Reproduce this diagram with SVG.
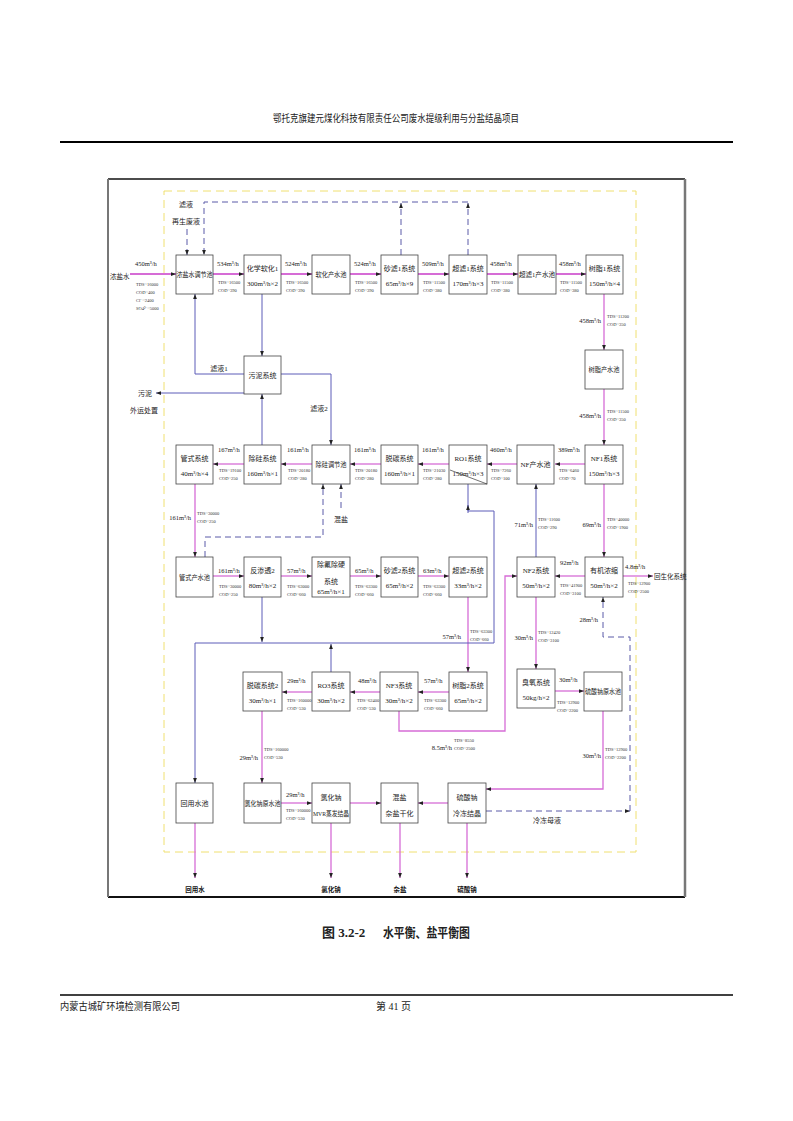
<svg xmlns="http://www.w3.org/2000/svg" width="793" height="1121" viewBox="0 0 793 1121">
<defs>
<style>
.bx{fill:#fff;stroke:#444;stroke-width:0.8}
.t{font-family:"Liberation Serif","Noto Sans CJK SC",serif;font-size:7px;fill:#222;text-anchor:middle}
.f{font-family:"Liberation Serif","Noto Sans CJK SC",serif;font-size:6.5px;fill:#222}
.fe{text-anchor:end}
.s{font-family:"Liberation Serif",serif;font-size:4.5px;fill:#333}
.m{fill:none;stroke:#d66cd6;stroke-width:1.3}
.mw{stroke-width:2}
.b{fill:none;stroke:#5c5cb8;stroke-width:1}
.d{fill:none;stroke:#5a5aa8;stroke-width:1;stroke-dasharray:6 4}
.o{font-family:"Liberation Serif","Noto Sans CJK SC",serif;font-size:6.5px;font-weight:bold;fill:#111;text-anchor:middle}
.h{font-family:"Liberation Serif","Noto Sans CJK SC",serif;fill:#222}
</style>
<marker id="ah" viewBox="0 0 8 6" refX="8" refY="3" markerWidth="5" markerHeight="4" markerUnits="userSpaceOnUse" orient="auto"><path d="M0,0L8,3L0,6z" fill="#222"/></marker>
</defs>
<rect x="0" y="0" width="793" height="1121" fill="#fff"/>

<g id="page">
<text class="h" x="273" y="122" font-size="10" textLength="246" lengthAdjust="spacingAndGlyphs">鄂托克旗建元煤化科技有限责任公司废水提级利用与分盐结晶项目</text>
<line x1="60" y1="142" x2="733" y2="142" stroke="#000" stroke-width="2"/>
<line x1="108" y1="179" x2="685" y2="179" stroke="#111" stroke-width="1.5"/>
<line x1="108" y1="897" x2="685" y2="897" stroke="#111" stroke-width="1.8"/>
<line x1="108" y1="179" x2="108" y2="897" stroke="#777" stroke-width="2"/>
<line x1="685" y1="179" x2="685" y2="897" stroke="#777" stroke-width="2.5"/>
<rect x="164" y="191" width="472" height="661" fill="none" stroke="#f0e070" stroke-width="1" stroke-dasharray="8 5"/>
<text class="h" x="322" y="937" font-size="13" font-weight="bold">图 3.2-2</text>
<text class="h" x="383" y="937" font-size="13" font-weight="bold" textLength="87" lengthAdjust="spacingAndGlyphs">水平衡、盐平衡图</text>
<line x1="60" y1="995" x2="733" y2="995" stroke="#000" stroke-width="1.5"/>
<text class="h" x="60" y="1010" font-size="10" textLength="120" lengthAdjust="spacingAndGlyphs">内蒙古城矿环境检测有限公司</text>
<text class="h" x="376" y="1010" font-size="10">第 41 页</text>
</g>

<g id="connectors">
<!-- row 1 -->
<path class="m mw" d="M130,274H176" marker-end="url(#ah)"/>
<path class="m mw" d="M213,274H244" marker-end="url(#ah)"/>
<path class="m mw" d="M281,274H312" marker-end="url(#ah)"/>
<path class="m mw" d="M350,274H381" marker-end="url(#ah)"/>
<path class="m mw" d="M418,274H449" marker-end="url(#ah)"/>
<path class="m mw" d="M487,274H518" marker-end="url(#ah)"/>
<path class="m mw" d="M556,274H586" marker-end="url(#ah)"/>
<path class="m" d="M604,294V350" marker-end="url(#ah)"/>
<path class="m" d="M604,389V445" marker-end="url(#ah)"/>
<!-- row 2 -->
<path class="m" d="M585,464H555" marker-end="url(#ah)"/>
<path class="m" d="M517,464H487" marker-end="url(#ah)"/>
<path class="m" d="M449,464H418" marker-end="url(#ah)"/>
<path class="m" d="M381,464H350" marker-end="url(#ah)"/>
<path class="m" d="M312,464H281" marker-end="url(#ah)"/>
<path class="m" d="M244,464H213" marker-end="url(#ah)"/>
<path class="m" d="M195,484V557" marker-end="url(#ah)"/>
<path class="m" d="M604,484V557" marker-end="url(#ah)"/>
<!-- row 3 -->
<path class="m" d="M213,576H244" marker-end="url(#ah)"/>
<path class="m" d="M281,576H312" marker-end="url(#ah)"/>
<path class="m" d="M350,576H381" marker-end="url(#ah)"/>
<path class="m" d="M418,576H449" marker-end="url(#ah)"/>
<path class="m" d="M585,576H555" marker-end="url(#ah)"/>
<path class="m" d="M623,576H653" marker-end="url(#ah)"/>
<path class="m" d="M536,597V669" marker-end="url(#ah)"/>
<path class="m" d="M468,597V672" marker-end="url(#ah)"/>
<path class="m" d="M399,711V731H505V576H517" marker-end="url(#ah)"/>
<!-- row 4 -->
<path class="m" d="M449,692H418" marker-end="url(#ah)"/>
<path class="m" d="M380,692H350" marker-end="url(#ah)"/>
<path class="m" d="M312,692H282" marker-end="url(#ah)"/>
<path class="m" d="M262,711V783" marker-end="url(#ah)"/>
<path class="m" d="M555,691H584" marker-end="url(#ah)"/>
<path class="m" d="M603,711V789H486" marker-end="url(#ah)"/>
<!-- row 5 -->
<path class="m" d="M281,803H312" marker-end="url(#ah)"/>
<path class="m" d="M350,803H381" marker-end="url(#ah)"/>
<path class="m" d="M448,803H418" marker-end="url(#ah)"/>
<path class="m" d="M195,823V878" marker-end="url(#ah)"/>
<path class="m" d="M331,823V878" marker-end="url(#ah)"/>
<path class="m" d="M400,823V878" marker-end="url(#ah)"/>
<path class="m" d="M467,823V878" marker-end="url(#ah)"/>
<!-- blue -->
<path class="b" d="M244,374H195V294" marker-end="url(#ah)"/>
<path class="b" d="M262,294V356" marker-end="url(#ah)"/>
<path class="b" d="M281,374H331V445" marker-end="url(#ah)"/>
<path class="b" d="M244,393H156" marker-end="url(#ah)"/>
<path class="b" d="M262,445V394" marker-end="url(#ah)"/>
<path class="b" d="M536,557V484" marker-end="url(#ah)"/>
<path class="b" d="M468,484V511H494V643H195V783" marker-end="url(#ah)"/>
<path class="b" d="M468,513V505" marker-end="url(#ah)"/>
<path class="b" d="M262,597V642" marker-end="url(#ah)"/>
<path class="b" d="M331,672V644" marker-end="url(#ah)"/>
<!-- dashed -->
<path class="d" d="M468,255V203" marker-end="url(#ah)"/>
<path class="d" d="M401,255V203" marker-end="url(#ah)"/>
<path class="d" d="M468,202H204V255" marker-end="url(#ah)"/>
<path class="d" d="M187,229V255" marker-end="url(#ah)"/>
<path class="d" d="M205,557V537H323V484" marker-end="url(#ah)"/>
<path class="d" d="M341,508V484" marker-end="url(#ah)"/>
<path class="d" d="M486,811H630" marker-end="url(#ah)"/>
<path class="d" d="M630,811V637H603V597" marker-end="url(#ah)"/>
</g>

<g id="nodes">
<g id="n-nongyan"><rect class="bx" x="176" y="255" width="37" height="39"/><text class="t" x="194.5" y="277" textLength="36" lengthAdjust="spacingAndGlyphs">浓盐水调节池</text></g>
<g id="n-ruanhua1"><rect class="bx" x="244" y="255" width="37" height="39"/><text class="t" x="262.5" y="271">化学软化1</text><text class="t" x="262.5" y="286">300m³/h×2</text></g>
<g id="n-ruanhuachan"><rect class="bx" x="312" y="255" width="38" height="39"/><text class="t" x="331" y="277" textLength="31" lengthAdjust="spacingAndGlyphs">软化产水池</text></g>
<g id="n-shalv1"><rect class="bx" x="381" y="255" width="37" height="39"/><text class="t" x="399.5" y="271">砂滤1系统</text><text class="t" x="399.5" y="286">65m³/h×9</text></g>
<g id="n-chaolv1"><rect class="bx" x="449" y="255" width="38" height="39"/><text class="t" x="468" y="271">超滤1系统</text><text class="t" x="468" y="286">170m³/h×3</text></g>
<g id="n-chaolv1chan"><rect class="bx" x="518" y="255" width="38" height="39"/><text class="t" x="537" y="277" textLength="36" lengthAdjust="spacingAndGlyphs">超滤1产水池</text></g>
<g id="n-shuzhi1"><rect class="bx" x="586" y="255" width="37" height="39"/><text class="t" x="604.5" y="271">树脂1系统</text><text class="t" x="604.5" y="286">150m³/h×4</text></g>
<g id="n-shuzhichan"><rect class="bx" x="585" y="350" width="38" height="39"/><text class="t" x="604" y="372" textLength="31" lengthAdjust="spacingAndGlyphs">树脂产水池</text></g>
<g id="n-wuni"><rect class="bx" x="244" y="356" width="37" height="38"/><text class="t" x="262.5" y="378">污泥系统</text></g>
<g id="n-nf1"><rect class="bx" x="585" y="445" width="38" height="39"/><text class="t" x="604" y="461">NF1系统</text><text class="t" x="604" y="476">150m³/h×3</text></g>
<g id="n-nfchan"><rect class="bx" x="517" y="445" width="37" height="39"/><text class="t" x="535.5" y="467">NF产水池</text></g>
<g id="n-ro1"><rect class="bx" x="449" y="445" width="38" height="39"/><text class="t" x="468" y="461">RO1系统</text><text class="t" x="468" y="476">150m³/h×3</text><line x1="450" y1="470" x2="487" y2="484" stroke="#333" stroke-width="0.7"/></g>
<g id="n-tuotan"><rect class="bx" x="381" y="445" width="37" height="39"/><text class="t" x="399.5" y="461">脱碳系统</text><text class="t" x="399.5" y="476">160m³/h×1</text></g>
<g id="n-chuguitj"><rect class="bx" x="312" y="445" width="38" height="39"/><text class="t" x="331" y="467" textLength="31" lengthAdjust="spacingAndGlyphs">除硅调节池</text></g>
<g id="n-chugui"><rect class="bx" x="244" y="445" width="37" height="39"/><text class="t" x="262.5" y="461">除硅系统</text><text class="t" x="262.5" y="476">160m³/h×1</text></g>
<g id="n-guanshi"><rect class="bx" x="176" y="445" width="37" height="39"/><text class="t" x="194.5" y="461">管式系统</text><text class="t" x="194.5" y="476">40m³/h×4</text></g>
<g id="n-guanshichan"><rect class="bx" x="176" y="557" width="37" height="40"/><text class="t" x="194.5" y="580" textLength="31" lengthAdjust="spacingAndGlyphs">管式产水池</text></g>
<g id="n-fanshentou2"><rect class="bx" x="244" y="557" width="37" height="40"/><text class="t" x="262.5" y="573">反渗透2</text><text class="t" x="262.5" y="588">80m³/h×2</text></g>
<g id="n-chufu"><rect class="bx" x="312" y="557" width="38" height="40"/><text class="t" x="331" y="567">除氟除硬</text><text class="t" x="331" y="584">系统</text><text class="t" x="331" y="594">65m³/h×1</text></g>
<g id="n-shalv2"><rect class="bx" x="381" y="557" width="37" height="40"/><text class="t" x="399.5" y="573">砂滤2系统</text><text class="t" x="399.5" y="588">65m³/h×2</text></g>
<g id="n-chaolv2"><rect class="bx" x="449" y="557" width="38" height="40"/><text class="t" x="468" y="573">超滤2系统</text><text class="t" x="468" y="588">33m³/h×2</text></g>
<g id="n-nf2"><rect class="bx" x="517" y="557" width="38" height="40"/><text class="t" x="536" y="573">NF2系统</text><text class="t" x="536" y="588">50m³/h×2</text></g>
<g id="n-youji"><rect class="bx" x="585" y="557" width="38" height="40"/><text class="t" x="604" y="573">有机浓缩</text><text class="t" x="604" y="588">50m³/h×2</text></g>
<g id="n-shuzhi2"><rect class="bx" x="449" y="672" width="38" height="39"/><text class="t" x="468" y="688">树脂2系统</text><text class="t" x="468" y="703">65m³/h×2</text></g>
<g id="n-nf3"><rect class="bx" x="380" y="672" width="38" height="39"/><text class="t" x="399" y="688">NF3系统</text><text class="t" x="399" y="703">30m³/h×2</text></g>
<g id="n-ro3"><rect class="bx" x="312" y="672" width="38" height="39"/><text class="t" x="331" y="688">RO3系统</text><text class="t" x="331" y="703">30m³/h×2</text></g>
<g id="n-tuotan2"><rect class="bx" x="243" y="672" width="39" height="39"/><text class="t" x="262.5" y="688">脱碳系统2</text><text class="t" x="262.5" y="703">30m³/h×1</text></g>
<g id="n-chouyang"><rect class="bx" x="517" y="669" width="38" height="39"/><text class="t" x="536" y="685">臭氧系统</text><text class="t" x="536" y="700">50kg/h×2</text></g>
<g id="n-liusuanyuan"><rect class="bx" x="584" y="672" width="38" height="39"/><text class="t" x="603" y="694" textLength="36" lengthAdjust="spacingAndGlyphs">硫酸钠原水池</text></g>
<g id="n-huiyong"><rect class="bx" x="176" y="783" width="37" height="40"/><text class="t" x="194.5" y="806">回用水池</text></g>
<g id="n-lvhuanayuan"><rect class="bx" x="244" y="783" width="37" height="40"/><text class="t" x="262.5" y="806" textLength="36" lengthAdjust="spacingAndGlyphs">氯化钠原水池</text></g>
<g id="n-mvr"><rect class="bx" x="312" y="783" width="38" height="40"/><text class="t" x="331" y="800">氯化钠</text><text class="t" x="331" y="816" textLength="36" lengthAdjust="spacingAndGlyphs">MVR蒸发结晶</text></g>
<g id="n-hunyan"><rect class="bx" x="381" y="783" width="37" height="40"/><text class="t" x="399.5" y="800">混盐</text><text class="t" x="399.5" y="816">杂盐干化</text></g>
<g id="n-liusuanna"><rect class="bx" x="448" y="783" width="38" height="40"/><text class="t" x="467" y="800">硫酸钠</text><text class="t" x="467" y="816">冷冻结晶</text></g>
</g>

<g id="labels">
<!-- free texts -->
<text class="f" x="110" y="279" font-size="7">浓盐水</text>
<text class="t" x="186" y="207">滤液</text>
<text class="t" x="186" y="224">再生废液</text>
<text class="t" x="219" y="371">滤液1</text>
<text class="t" x="319" y="411">滤液2</text>
<text class="t" x="145" y="396">污泥</text>
<text class="t" x="144" y="413">外运处置</text>
<text class="t" x="341" y="522">混盐</text>
<text class="f" x="654" y="579" font-size="7">回生化系统</text>
<text class="t" x="547" y="823">冷冻母液</text>
<text class="o" x="195" y="892">回用水</text>
<text class="o" x="331" y="892">氯化钠</text>
<text class="o" x="400" y="892">杂盐</text>
<text class="o" x="467" y="892">硫酸钠</text>
<!-- row 1 flows -->
<text class="f" x="135" y="266">450m³/h</text>
<text class="s" x="136" y="286">TDS~16000</text><text class="s" x="136" y="294">COD~400</text><text class="s" x="136" y="302">Cl⁻~2400</text><text class="s" x="136" y="310">SO4²⁻~5000</text>
<text class="f" x="217" y="266">534m³/h</text>
<text class="s" x="218" y="284">TDS~16500</text><text class="s" x="218" y="291.5">COD~390</text>
<text class="f" x="285" y="266">524m³/h</text>
<text class="s" x="286" y="284">TDS~16500</text><text class="s" x="286" y="291.5">COD~390</text>
<text class="f" x="354" y="266">524m³/h</text>
<text class="s" x="355" y="284">TDS~16500</text><text class="s" x="355" y="291.5">COD~390</text>
<text class="f" x="422" y="266">509m³/h</text>
<text class="s" x="423" y="284">TDS~11500</text><text class="s" x="423" y="291.5">COD~380</text>
<text class="f" x="490" y="266">458m³/h</text>
<text class="s" x="491" y="284">TDS~11500</text><text class="s" x="491" y="291.5">COD~380</text>
<text class="f" x="559" y="266">458m³/h</text>
<text class="s" x="560" y="284">TDS~11500</text><text class="s" x="560" y="291.5">COD~380</text>
<text class="f fe" x="601" y="323">458m³/h</text>
<text class="s" x="607" y="318">TDS~11200</text><text class="s" x="607" y="325.5">COD~350</text>
<text class="f fe" x="601" y="418">458m³/h</text>
<text class="s" x="607" y="413">TDS~11500</text><text class="s" x="607" y="420.5">COD~350</text>
<!-- row 2 flows -->
<text class="f" x="558" y="452">389m³/h</text>
<text class="s" x="559" y="472">TDS~6460</text><text class="s" x="559" y="479.5">COD~70</text>
<text class="f" x="490" y="452">460m³/h</text>
<text class="s" x="491" y="472">TDS~7260</text><text class="s" x="491" y="479.5">COD~100</text>
<text class="f" x="422" y="452">161m³/h</text>
<text class="s" x="423" y="472">TDS~21030</text><text class="s" x="423" y="479.5">COD~280</text>
<text class="f" x="354" y="452">161m³/h</text>
<text class="s" x="355" y="472">TDS~20180</text><text class="s" x="355" y="479.5">COD~280</text>
<text class="f" x="287" y="452">161m³/h</text>
<text class="s" x="288" y="472">TDS~20180</text><text class="s" x="288" y="479.5">COD~280</text>
<text class="f" x="218" y="452">167m³/h</text>
<text class="s" x="219" y="472">TDS~19100</text><text class="s" x="219" y="479.5">COD~250</text>
<text class="f fe" x="191" y="520">161m³/h</text>
<text class="s" x="197" y="515">TDS~30000</text><text class="s" x="197" y="522.5">COD~250</text>
<text class="f fe" x="601" y="527">69m³/h</text>
<text class="s" x="607" y="521">TDS~40000</text><text class="s" x="607" y="528.5">COD~1900</text>
<text class="f fe" x="533" y="527">71m³/h</text>
<text class="s" x="538" y="521">TDS~11600</text><text class="s" x="538" y="528.5">COD~290</text>
<!-- row 3 flows -->
<text class="f" x="218" y="573">161m³/h</text>
<text class="s" x="219" y="588">TDS~30000</text><text class="s" x="219" y="595.5">COD~250</text>
<text class="f" x="287" y="573">57m³/h</text>
<text class="s" x="287" y="588">TDS~63000</text><text class="s" x="287" y="595.5">COD~660</text>
<text class="f" x="355" y="573">65m³/h</text>
<text class="s" x="355" y="588">TDS~63300</text><text class="s" x="355" y="595.5">COD~660</text>
<text class="f" x="423" y="573">63m³/h</text>
<text class="s" x="423" y="588">TDS~63300</text><text class="s" x="423" y="595.5">COD~660</text>
<text class="f" x="560" y="565">92m³/h</text>
<text class="s" x="560" y="587">TDS~41900</text><text class="s" x="560" y="594.5">COD~3100</text>
<text class="f" x="625" y="569">4.8m³/h</text>
<text class="s" x="628" y="585">TDS~12900</text><text class="s" x="628" y="592.5">COD~2500</text>
<text class="f fe" x="598" y="622">28m³/h</text>
<text class="f fe" x="533" y="640">30m³/h</text>
<text class="s" x="538" y="634">TDS~12420</text><text class="s" x="538" y="641.5">COD~3100</text>
<text class="f fe" x="461" y="639">57m³/h</text>
<text class="s" x="470" y="633">TDS~63300</text><text class="s" x="470" y="640.5">COD~660</text>
<!-- row 4 flows -->
<text class="f" x="424" y="683">57m³/h</text>
<text class="s" x="424" y="702">TDS~63300</text><text class="s" x="424" y="709.5">COD~660</text>
<text class="f" x="358" y="683">48m³/h</text>
<text class="s" x="357" y="702">TDS~62400</text><text class="s" x="357" y="709.5">COD~530</text>
<text class="f" x="287" y="683">29m³/h</text>
<text class="s" x="287" y="702">TDS~160000</text><text class="s" x="287" y="709.5">COD~530</text>
<text class="f" x="559" y="682">30m³/h</text>
<text class="s" x="557" y="704">TDS~12900</text><text class="s" x="557" y="711.5">COD~2200</text>
<text class="f fe" x="258" y="760">29m³/h</text>
<text class="s" x="264" y="751">TDS~160000</text><text class="s" x="264" y="758.5">COD~530</text>
<text class="f fe" x="452" y="750">8.5m³/h</text>
<text class="s" x="454" y="742">TDS~8550</text><text class="s" x="454" y="749.5">COD~2500</text>
<text class="f fe" x="601" y="758">30m³/h</text>
<text class="s" x="605" y="751">TDS~12900</text><text class="s" x="605" y="758.5">COD~2200</text>
<!-- row 5 flows -->
<text class="f" x="286" y="797">29m³/h</text>
<text class="s" x="286" y="812">TDS~160000</text><text class="s" x="286" y="819.5">COD~530</text>
</g>
</svg>
